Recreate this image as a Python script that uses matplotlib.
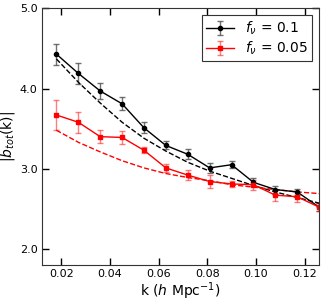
import matplotlib
matplotlib.use("Agg")
import matplotlib.pyplot as plt

k = [0.018, 0.027, 0.036, 0.045, 0.054, 0.063, 0.072, 0.081, 0.090, 0.099, 0.108, 0.117, 0.126]
b_01 = [4.43, 4.19, 3.97, 3.81, 3.51, 3.29, 3.18, 3.01, 3.05, 2.83, 2.74, 2.71, 2.52]
e_01 = [0.13, 0.13, 0.10, 0.08, 0.07, 0.05, 0.06, 0.06, 0.04, 0.05, 0.05, 0.04, 0.05]
b_005 = [3.67, 3.58, 3.40, 3.39, 3.23, 3.01, 2.92, 2.84, 2.81, 2.80, 2.67, 2.65, 2.52]
e_005 = [0.19, 0.13, 0.08, 0.08, 0.04, 0.05, 0.06, 0.08, 0.04, 0.06, 0.07, 0.07, 0.05]
th_01 = [4.37, 4.08, 3.82, 3.58, 3.38, 3.22, 3.08, 2.97, 2.88, 2.79, 2.71, 2.64, 2.57]
th_005 = [3.48, 3.33, 3.21, 3.10, 3.01, 2.94, 2.89, 2.85, 2.80, 2.77, 2.74, 2.71, 2.69]
xticks = [0.02, 0.04, 0.06, 0.08, 0.10, 0.12]
yticks = [2.0, 3.0, 4.0, 5.0]

fig = plt.figure(figsize=(3.24, 3.01), dpi=100)
ax = fig.add_axes([0.129, 0.12, 0.856, 0.852])

ax.errorbar(k, b_01, yerr=e_01, color='black', marker='o', ms=3, lw=1.0,
            ecolor=(0.3, 0.3, 0.3, 0.8), elinewidth=1.0, capsize=2, label=r'$f_\nu$ = 0.1')
ax.errorbar(k, b_005, yerr=e_005, color='red', marker='s', ms=3, lw=1.0,
            ecolor=(1, 0, 0, 0.5), elinewidth=1.0, capsize=2, label=r'$f_\nu$ = 0.05')
ax.plot(k, th_01, ls='--', color='black', lw=1.0)
ax.plot(k, th_005, ls='--', color='red', lw=1.0)

ax.set_xlim(0.012, 0.126)
ax.set_ylim(1.8, 5.0)
ax.set_xticks(xticks)
ax.set_xticklabels(['%.2f' % t for t in xticks])
ax.set_yticks(yticks)
ax.set_yticklabels(['%.1f' % t for t in yticks])
ax.tick_params(direction='in', top=True, right=True, length=5, width=1, labelsize=8)
ax.tick_params(axis='x', pad=3)
ax.tick_params(axis='y', pad=3)
for s in ax.spines.values():
    s.set_color('#333333')
ax.set_xlabel(r'k ($h$ Mpc$^{-1}$)', fontsize=10, labelpad=1)
ax.set_ylabel(r'|$b_{tot}$(k)|', fontsize=10, labelpad=2)
leg = ax.legend(loc='upper right', fontsize=10, fancybox=False, edgecolor='#333333',
                framealpha=1, borderaxespad=0.5, handlelength=2.0,
                labelspacing=0.2, borderpad=0.3)
leg.get_frame().set_linewidth(0.8)

fig.savefig('out.png', dpi=100)
